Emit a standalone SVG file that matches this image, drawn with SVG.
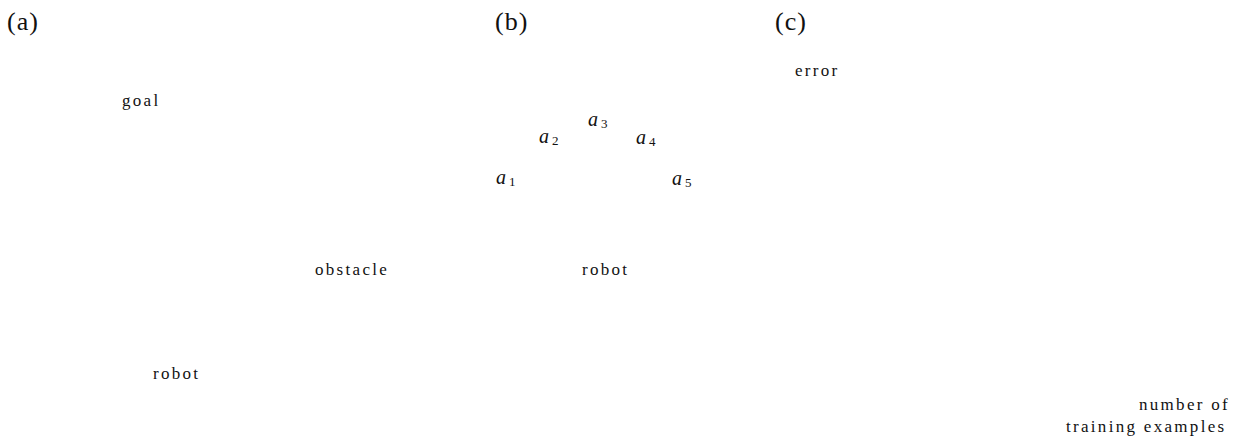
<svg xmlns="http://www.w3.org/2000/svg" width="1244" height="436" viewBox="0 0 1244 436">
<style>
text{font-family:"Liberation Serif","DejaVu Serif",serif;fill:#111;}
.lab{font-size:26px;letter-spacing:1px;}
.t{font-size:17px;letter-spacing:2.3px;}
.m{font-size:20px;font-style:italic;}
.s{font-size:13px;font-style:normal;}
</style>
<rect width="1244" height="436" fill="#fff"/>
<g id="panel-a">
<text class="lab" x="7" y="30">(a)</text>
<text id="goal" class="t" x="122" y="106">goal</text>
<text id="obstacle" class="t" x="315" y="275">obstacle</text>
<text id="robot-a" class="t" x="153" y="379">robot</text>
</g>
<g id="panel-b">
<text class="lab" x="495" y="30">(b)</text>
<text id="a1" class="m" x="496" y="184">a<tspan class="s" dx="3" dy="2">1</tspan></text>
<text id="a2" class="m" x="539" y="143">a<tspan class="s" dx="3" dy="2">2</tspan></text>
<text id="a3" class="m" x="588" y="126">a<tspan class="s" dx="3" dy="2">3</tspan></text>
<text id="a4" class="m" x="636" y="144">a<tspan class="s" dx="3" dy="2">4</tspan></text>
<text id="a5" class="m" x="672" y="185">a<tspan class="s" dx="3" dy="2">5</tspan></text>
<text id="robot-b" class="t" x="582" y="275">robot</text>
</g>
<g id="panel-c">
<text class="lab" x="775" y="30">(c)</text>
<text id="error" class="t" x="795" y="76">error</text>
<text class="t" x="1139" y="410">number of</text>
<text class="t" x="1066" y="432">training examples</text>
</g>
<g id="connectors"></g>
</svg>
